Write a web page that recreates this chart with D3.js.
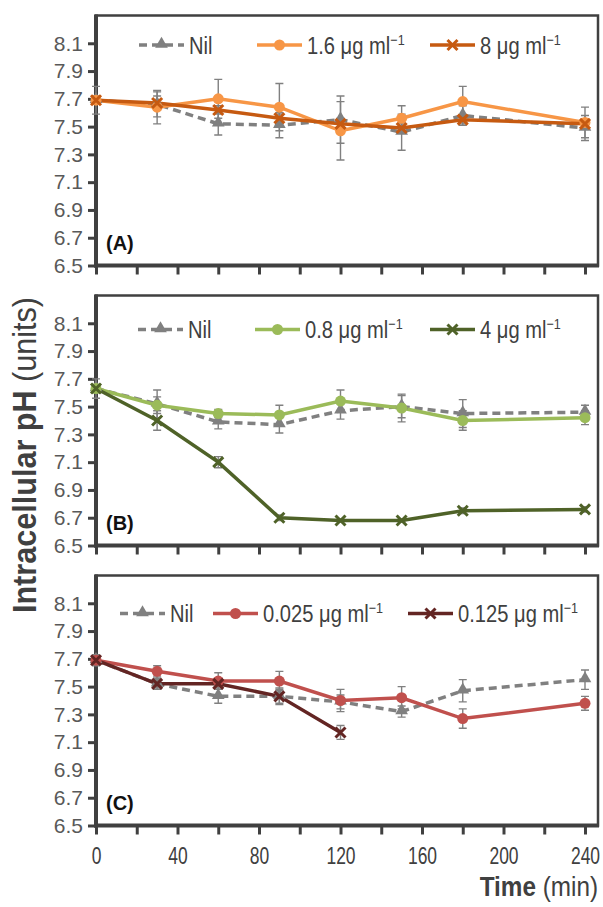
<!DOCTYPE html>
<html>
<head>
<meta charset="utf-8">
<script src="https://cdn.jsdelivr.net/npm/d3@7"></script>
<style>
  body { margin: 0; background: #fff; }
  svg { display: block; }
</style>
</head>
<body>
<div id="root"></div>
<script>
// time points (min)
var times = [0, 30, 60, 90, 120, 150, 180, 240]

// panel A
var nilA    = [7.69, 7.66, 7.52, 7.51, 7.55, 7.46, 7.58, 7.49]
var nilAErr = [0.10, 0.09, 0.08, 0.09, 0.17, 0.13, 0.07, 0.09]
var lowA    = [7.69, 7.64, 7.70, 7.64, 7.47, 7.56, 7.68, 7.53]
var lowAErr = [0.03, 0.12, 0.14, 0.17, 0.21, 0.09, 0.11, 0.11]
var highA    = [7.69, 7.67, 7.62, 7.56, 7.52, 7.49, 7.55, 7.52]
var highAErr = [0.03, 0.05, 0.03, 0.03, 0.04, 0.03, 0.03, 0.03]

// panel B
var nilB    = [7.63, 7.52, 7.39, 7.37, 7.47, 7.50, 7.45, 7.46]
var nilBErr = [0.07, 0.10, 0.05, 0.06, 0.06, 0.08, 0.10, 0.05]
var lowB    = [7.63, 7.51, 7.45, 7.44, 7.54, 7.49, 7.40, 7.42]
var lowBErr = [0.03, 0.06, 0.03, 0.07, 0.08, 0.10, 0.07, 0.05]
var highB    = [7.63, 7.40, 7.10, 6.70, 6.68, 6.68, 6.75, 6.76]
var highBErr = [0.02, 0.07, 0.04, 0.02, 0.01, 0.01, 0.02, 0.02]

// panel C
var nilC    = [7.69, 7.52, 7.43, 7.43, 7.39, 7.32, 7.47, 7.55]
var nilCErr = [0.04, 0.04, 0.05, 0.06, 0.05, 0.04, 0.08, 0.07]
var lowC    = [7.69, 7.61, 7.54, 7.54, 7.40, 7.42, 7.27, 7.38]
var lowCErr = [0.03, 0.04, 0.06, 0.07, 0.08, 0.08, 0.07, 0.05]
var highC    = [7.69, 7.52, 7.52, 7.43, 7.17]
var highCErr = [0.03, 0.03, 0.03, 0.05, 0.05]

// legend labels (dose)
var dosesA = ["Nil", "1.6", "8"]
var dosesB = ["Nil", "0.8", "4"]
var dosesC = ["Nil", "0.025", "0.125"]
var panelLabels = ["(A)", "(B)", "(C)"]

var yTicks = [6.5, 6.7, 6.9, 7.1, 7.3, 7.5, 7.7, 7.9, 8.1]
var xTicks = [0, 20, 40, 60, 80, 100, 120, 140, 160, 180, 200, 220, 240]
var xLabels = [0, 40, 80, 120, 160, 200, 240]

// set the dimensions
var W = 603, H = 907
var left = 96
var panelW = 502
var panelH = 250
var tops = [15.5, 295.5, 575.5]

var font = "'Liberation Sans', Arial, sans-serif"
var axisCol = "#404040"
var gray = "#808080"

var svg = d3.select("#root")
            .append("svg")
            .attr("width", W)
            .attr("height", H)

var x = d3.scaleLinear().domain([0, 240]).range([0, 489])
var y = d3.scaleLinear().domain([6.5, 8.3]).range([panelH, 0])

var panels = [
  {series: [
    {v: nilA, e: nilAErr, col: gray, dash: "8,5", mk: "tri"},
    {v: lowA, e: lowAErr, col: "#F79646", mk: "circle"},
    {v: highA, e: highAErr, col: "#C65A11", mk: "cross"}],
   doses: dosesA, legY: 29.5, legX: [139, 257, 430]},
  {series: [
    {v: nilB, e: nilBErr, col: gray, dash: "8,5", mk: "tri"},
    {v: lowB, e: lowBErr, col: "#9BBB59", mk: "circle"},
    {v: highB, e: highBErr, col: "#4F6228", mk: "cross"}],
   doses: dosesB, legY: 34, legX: [138, 255, 430]},
  {series: [
    {v: nilC, e: nilCErr, col: gray, dash: "8,5", mk: "tri"},
    {v: lowC, e: lowCErr, col: "#C0504D", mk: "circle"},
    {v: highC, e: highCErr, col: "#632523", mk: "cross"}],
   doses: dosesC, legY: 38, legX: [120, 213, 408]}
]

function drawMarker(g, mk, col, cx, cy) {
  if (mk == "circle") {
    g.append("circle").attr("cx", cx).attr("cy", cy).attr("r", 5.5).attr("fill", col)
  } else if (mk == "tri") {
    g.append("path")
      .attr("d", d3.symbol().type(d3.symbolTriangle).size(70))
      .attr("transform", "translate(" + cx + "," + (cy - 1) + ")")
      .attr("fill", col)
  } else {
    var s = 5
    g.append("path")
      .attr("d", "M" + (cx - s) + "," + (cy - s) + "L" + (cx + s) + "," + (cy + s) +
                 "M" + (cx - s) + "," + (cy + s) + "L" + (cx + s) + "," + (cy - s))
      .attr("stroke", col).attr("stroke-width", 3)
  }
}

panels.forEach(function(p, pi) {
  var g = svg.append("g")
    .attr("transform", "translate(" + left + "," + tops[pi] + ")")

  // frame
  g.append("rect")
    .attr("x", 0).attr("y", 0)
    .attr("width", panelW).attr("height", panelH)
    .attr("fill", "none").attr("stroke", axisCol).attr("stroke-width", 2.5)

  // y axis
  var ya = g.append("g").call(d3.axisLeft(y).tickValues(yTicks).tickSize(8).tickPadding(5)
                               .tickFormat(d3.format(".1f")))
  ya.select(".domain").remove()
  ya.selectAll("line").attr("stroke", axisCol).attr("stroke-width", 3)
  ya.selectAll("text").attr("font-family", font)
    .attr("font-size", 21).attr("fill", "#595959")

  // x axis ticks
  var xa = g.append("g").attr("transform", "translate(0," + panelH + ")")
    .call(d3.axisBottom(x).tickValues(xTicks).tickSize(9).tickPadding(13)
            .tickFormat(function(d) { return (pi == 2 && xLabels.indexOf(d) >= 0) ? d : "" }))
  xa.select(".domain").remove()
  xa.selectAll("line").attr("stroke", axisCol).attr("stroke-width", 3)
  xa.selectAll("text").attr("font-family", font)
    .attr("font-size", 23).attr("fill", "#404040")
    .attr("transform", "scale(0.76,1)")

  g.append("line").attr("x1", 0).attr("x2", 0).attr("y1", -1).attr("y2", panelH + 2)
    .attr("stroke", axisCol).attr("stroke-width", 4)
  g.append("line").attr("x1", -2).attr("x2", panelW + 1).attr("y1", panelH).attr("y2", panelH)
    .attr("stroke", axisCol).attr("stroke-width", 4)

  // error bars
  p.series.forEach(function(s) {
    s.v.forEach(function(v, i) {
      var cx = x(times[i])
      var y1 = y(v + s.e[i]), y2 = y(v - s.e[i])
      g.append("path")
        .attr("d", "M" + cx + "," + y1 + "V" + y2 +
                   "M" + (cx - 4) + "," + y1 + "H" + (cx + 4) +
                   "M" + (cx - 4) + "," + y2 + "H" + (cx + 4))
        .attr("stroke", gray).attr("stroke-width", 1.4).attr("fill", "none")
    })
  })

  // lines
  var line = d3.line()
    .x(function(d, i) { return x(times[i]) })
    .y(function(d) { return y(d) })
  p.series.forEach(function(s) {
    g.append("path")
      .datum(s.v)
      .attr("d", line)
      .attr("fill", "none")
      .attr("stroke", s.col)
      .attr("stroke-width", 3.5)
      .attr("stroke-dasharray", s.dash || null)
  })

  // markers
  p.series.forEach(function(s) {
    s.v.forEach(function(v, i) {
      drawMarker(g, s.mk, s.col, x(times[i]), y(v))
    })
  })

  // legend
  p.series.forEach(function(s, si) {
    var lx = p.legX[si] - left
    var ly = p.legY
    g.append("line")
      .attr("x1", lx).attr("x2", lx + 45).attr("y1", ly).attr("y2", ly)
      .attr("stroke", s.col).attr("stroke-width", 3.5)
      .attr("stroke-dasharray", s.dash || null)
    drawMarker(g, s.mk, s.col, lx + 22.5, ly)
    var t = g.append("text")
      .attr("transform", "translate(" + (lx + 50) + "," + (ly + 8.5) + ") scale(0.84,1)")
      .attr("font-family", font).attr("font-size", 24).attr("fill", "#404040")
    if (p.doses[si] == "Nil") {
      t.text("Nil")
    } else {
      t.append("tspan").text(p.doses[si] + " \u03BCg ml")
      t.append("tspan").attr("dy", -9).attr("font-size", 15).text("\u22121")
    }
  })

  g.append("text")
    .attr("x", 10).attr("y", panelH - 16)
    .attr("font-family", font)
    .attr("font-weight", "bold").attr("font-size", 20)
    .attr("fill", "#111")
    .text(panelLabels[pi])
})

// axis titles
var yt = svg.append("text")
  .attr("transform", "translate(36,455) rotate(-90) scale(0.9,1)")
  .attr("text-anchor", "middle")
  .attr("font-family", font).attr("font-size", 34).attr("fill", "#404040")
yt.append("tspan").attr("font-weight", "bold").text("Intracellular pH")
yt.append("tspan").text(" (units)")

var xt = svg.append("text")
  .attr("transform", "translate(598,896) scale(0.9,1)")
  .attr("text-anchor", "end")
  .attr("font-family", font).attr("font-size", 27).attr("fill", "#404040")
xt.append("tspan").attr("font-weight", "bold").text("Time")
xt.append("tspan").text(" (min)")
</script>
</body>
</html>
